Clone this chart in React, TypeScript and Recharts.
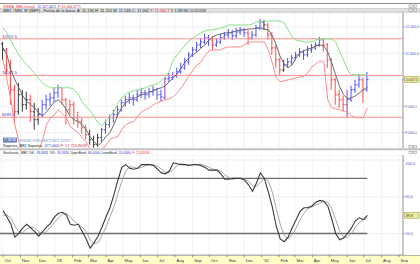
import React from 'react';
import { ComposedChart, Bar, Line, XAxis, YAxis, CartesianGrid, ReferenceLine } from 'recharts';

// weekly bars, Oct 2008 .. Jul 2010
const openPx = [
  11358, 11132, 10453, 9623, 8792, 9434, 9057, 9245, 8792, 8491,
  8679, 9057, 9245, 9321, 9509, 9698, 9245, 8868, 9057, 8566,
  8415, 8189, 7925, 7736, 7547, 7811, 8113, 8302, 8566, 8679,
  8868, 9132, 9245, 9321, 9245, 9434, 9509, 9434, 9547, 9623,
  9434, 9321, 10038, 10075, 10151, 10302, 10453, 10679, 10943, 11132,
  11321, 11434, 11585, 11509, 11321, 11434, 11585, 11698, 11774, 11660,
  11811, 11887, 11774, 11585, 11698, 11962, 12189, 12075, 11698, 11208,
  10755, 10377, 10566, 10679, 10830, 10943, 11057, 10943, 11132, 11208,
  11321, 11509, 11321, 10755, 10000, 9434, 9245, 9057, 9245, 9623,
  9811, 10000, 9623,
];
const highPx = [
  11434, 11208, 10755, 9811, 9887, 9623, 9547, 9434, 9132, 8943,
  9245, 9434, 9509, 9698, 9811, 9698, 9321, 9245, 9170, 8792,
  8566, 8302, 8113, 7887, 7962, 8189, 8491, 8679, 8868, 9019,
  9245, 9396, 9509, 9434, 9623, 9698, 9623, 9698, 9774, 9698,
  9623, 10113, 10264, 10302, 10453, 10642, 10830, 11057, 11245, 11434,
  11585, 11736, 11698, 11660, 11585, 11736, 11811, 11925, 11887, 11962,
  12000, 11962, 11887, 11849, 12075, 12302, 12264, 12151, 11811, 11321,
  10830, 10755, 10830, 10943, 11057, 11208, 11132, 11283, 11358, 11434,
  11623, 11585, 11396, 10830, 10075, 9623, 9396, 9623, 9774, 10000,
  10226, 10075, 10302,
];
const lowPx = [
  10755, 10189, 9057, 8302, 8679, 8792, 8868, 8415, 8113, 8302,
  8566, 8868, 9019, 9170, 9321, 9057, 8302, 8679, 8302, 8189,
  7962, 7736, 7547, 7434, 7472, 7660, 7962, 8189, 8377, 8566,
  8792, 8981, 9094, 9019, 9170, 9321, 9245, 9321, 9396, 9245,
  9170, 9245, 9925, 10000, 10075, 10226, 10377, 10566, 10868, 11057,
  11208, 11358, 11283, 11132, 11245, 11358, 11509, 11585, 11509, 11585,
  11698, 11623, 11321, 11509, 11623, 11887, 11887, 11509, 10943, 10453,
  10189, 10302, 10453, 10566, 10755, 10868, 10755, 10868, 11019, 11132,
  11245, 11057, 10453, 9623, 9057, 8943, 8792, 8566, 9170, 9509,
  9698, 9132, 9547,
];
const closePx = [
  11132, 10377, 9623, 8792, 9434, 9057, 9245, 8792, 8491, 8679,
  9057, 9245, 9321, 9509, 9698, 9245, 8868, 9057, 8566, 8415,
  8189, 7925, 7736, 7547, 7811, 8113, 8302, 8566, 8679, 8868,
  9132, 9245, 9321, 9245, 9434, 9509, 9434, 9547, 9623, 9434,
  9358, 10038, 10075, 10151, 10302, 10453, 10679, 10943, 11132, 11321,
  11434, 11585, 11509, 11321, 11434, 11585, 11698, 11774, 11660, 11811,
  11887, 11774, 11585, 11698, 11962, 12189, 12075, 11698, 11208, 10755,
  10377, 10566, 10679, 10830, 10943, 11057, 10943, 11132, 11208, 11321,
  11509, 11321, 10755, 10000, 9434, 9245, 9057, 9245, 9623, 9811,
  10000, 9623, 10017.5,
];
// u = up, d = down, f = flat, t = turn
const barTrend = [
  'f', 'd', 'd', 'd', 'f', 'f', 'f', 'd', 'f', 'f',
  'u', 'u', 'u', 'u', 'u', 'd', 'd', 'd', 'd', 'd',
  'd', 'd', 'f', 'f', 'f', 'u', 'u', 'u', 'u', 'u',
  'u', 'u', 'u', 'u', 'u', 'u', 'u', 'u', 'u', 'u',
  'u', 't', 'u', 'u', 'u', 'u', 'u', 'u', 'u', 'u',
  'u', 'u', 'u', 'd', 'u', 'u', 'u', 'u', 'u', 'u',
  'u', 'u', 'd', 'u', 'u', 'u', 'f', 'd', 'd', 'd',
  'd', 'f', 'u', 'u', 'u', 'u', 'u', 'u', 'u', 'u',
  'u', 'd', 'd', 'd', 'd', 'd', 'd', 't', 'u', 'u',
  'u', 'd', 'u',
];
const upperBand = [
  11962, 11774, 11472, 11208, 10943, 10755, 10566, 10415, 10264, 10038,
  9887, 9774, 9698, 9698, 9698, 9698, 9698, 9698, 9623, 9434,
  9170, 8981, 8830, 8604, 8377, 8264, 8453, 8604, 8792, 9132,
  9321, 9472, 9547, 9585, 9623, 9660, 9698, 9774, 9811, 9849,
  9962, 10113, 10340, 10755, 10943, 11132, 11321, 11472, 11585, 11698,
  11774, 11849, 11887, 11887, 11925, 11962, 12000, 12075, 12075, 12075,
  12075, 12075, 12075, 12113, 12189, 12189, 12226, 12226, 12226, 12226,
  12226, 12151, 11887, 11623, 11509, 11472, 11434, 11434, 11434, 11509,
  11547, 11547, 11547, 11547, 11434, 11057, 10755, 10377, 10189, 10189,
  10189, 10189, 10189,
];
const lowerBand = [
  10755, 10000, 9245, 8302, 7660, 7283, 7283, 7283, 7283, 7283,
  7736, 8302, 8566, 8679, 8868, 8717, 8566, 8226, 8113, 8000,
  7811, 7660, 7359, 7170, 7170, 7359, 7547, 7736, 7811, 7849,
  8113, 8302, 8377, 8415, 8604, 8792, 8868, 8943, 9057, 9132,
  9208, 9245, 9283, 9358, 9509, 9698, 9925, 10151, 10377, 10566,
  10679, 10906, 11094, 11132, 11132, 11132, 11208, 11245, 11245, 11245,
  11245, 11321, 11434, 11434, 11434, 11434, 11434, 11132, 10642, 10075,
  9925, 9962, 10000, 10038, 10075, 10113, 10151, 10264, 10491, 10604,
  10717, 10679, 9245, 8943, 8906, 8868, 8830, 8755, 8642, 8566,
  8566, 8566, 8943,
];
const avgLine = [
  11208, 10943, 10377, 10000, 9698, 9396, 9170, 9057, 8943, 8755,
  8642, 8792, 8981, 9170, 9245, 9094, 8868, 8604, 8491, 8415,
  8302, 8113, 7849, 7660, 7509, 7660, 7849, 8000, 8302, 8679,
  8943, 9132, 9245, 9283, 9358, 9434, 9472, 9547, 9585, 9660,
  9698, 9774, 9925, 10075, 10226, 10453, 10679, 10830, 10943, 11057,
  11208, 11321, 11509, 11623, 11698, 11736, 11774, 11774, 11811, 11849,
  11887, 11887, 11925, 11925, 11962, 11962, 11925, 11887, 11660, 11321,
  10868, 10604, 10453, 10566, 10830, 11019, 11094, 11170, 11208, 11283,
  11321, 11283, 11057, 10642, 10189, 9736, 9434, 9283, 9321, 9396,
  9509, 9623, 9736,
];
const stochK = [
  45, 38, 30, 16, 20, 26, 30, 26, 22, 17,
  22, 27, 31, 38, 42, 43, 40, 30, 29, 30,
  22, 14, 4, 10, 17, 27, 38, 48, 62, 78,
  92, 95, 91, 90, 91, 95, 95, 95, 94, 90,
  86, 85, 88, 97, 96, 95, 95, 94, 95, 95,
  94, 92, 89, 89, 89, 85, 79, 79, 80, 80,
  80, 78, 73, 66, 75, 86, 80, 65, 49, 28,
  14, 11, 16, 26, 35, 44, 48, 48, 50, 54,
  56, 55, 50, 36, 20, 13, 15, 20, 26, 34,
  37, 35, 39.8,
];
const stochD = [
  40, 40, 37, 28, 22, 21, 25, 27, 26, 22,
  20, 22, 27, 32, 37, 41, 42, 38, 33, 30,
  27, 22, 13, 9, 10, 18, 27, 38, 49, 63,
  77, 88, 93, 92, 91, 92, 94, 95, 95, 93,
  90, 87, 86, 90, 94, 96, 95, 95, 95, 95,
  95, 94, 92, 90, 89, 88, 84, 81, 79, 80,
  80, 79, 77, 72, 71, 76, 80, 77, 65, 47,
  30, 18, 14, 18, 26, 35, 42, 47, 49, 51,
  53, 55, 54, 47, 35, 23, 16, 16, 20, 27,
  32, 35, 37,
];

// month starts, in weeks from the first bar
const monthPos = [0, 4.4, 8.7, 13.1, 17.6, 21.6, 26, 30.3, 34.7, 39, 43.4, 47.9, 52.1, 56.6, 60.9, 65.3, 69.7, 73.7, 78.1, 82.4, 86.9, 91.1, 95.6, 100];
const monthLabels = ['Oct', 'Nov', 'Dec', "'09", 'Feb', 'Mar', 'Apr', 'May', 'Jun', 'Jul', 'Aug', 'Sep', 'Oct', 'Nov', 'Dec', "'10", 'Feb', 'Mar', 'Apr', 'May', 'Jun', 'Jul', 'Aug', 'Sep'];

const levels = [11552.5, 10167.5, 8583.0];
const priceTicks = [8000, 9000, 10000, 11000, 12000];
const stochTicks = [0, 20, 40, 60, 80, 100];
const stochBands = [80, 20];

const rows = closePx.map((c, i) => ({
  w: i,
  open: openPx[i],
  high: highPx[i],
  low: lowPx[i],
  close: c,
  trend: barTrend[i],
  upper: upperBand[i],
  lower: lowerBand[i],
  avg: avgLine[i],
  k: stochK[i],
  d: stochD[i],
}));

const xDomain = [-0.76, 101];
const lastRow = rows[rows.length - 1];

const trendColor: Record<string, string> = { u: '#5050ff', d: '#ff4a4a', f: '#3a3a3a', t: '#9a3cb0' };
const FONT = "'Liberation Sans', Arial, sans-serif";
const RED = '#e03030';
const BLUE = '#3434c8';
const INK = '#202020';

const comma = (v: number, dec = 1) => v.toFixed(dec).replace('.', ',');
const spaced = (v: number) => {
  const [i, d] = v.toFixed(1).split('.');
  return i.replace(/\B(?=(\d{3})+(?!\d))/g, ' ') + ',' + d;
};

const OhlcBar = (props: any) => {
  const { x, y, width, height, payload } = props;
  if (!payload) return null;
  const top = Math.min(y, y + height);
  const bot = Math.max(y, y + height);
  const span = payload.high - payload.low || 1;
  const yOf = (v: number) => top + ((payload.high - v) / span) * (bot - top);
  const cx = x + width / 2;
  return (
    <g stroke={trendColor[payload.trend]} strokeWidth={1}>
      <line x1={cx} x2={cx} y1={top} y2={bot} />
      <line x1={cx - 1.6} x2={cx} y1={yOf(payload.open)} y2={yOf(payload.open)} />
      <line x1={cx} x2={cx + 1.6} y1={yOf(payload.close)} y2={yOf(payload.close)} />
    </g>
  );
};

const levelLabel = (text: string) => (p: any) => {
  const vb = p.viewBox || {};
  return (
    <text x={(vb.x || 0) + 2} y={(vb.y || 0) - 1.2} fontSize={4.2} fill="#4848c8" fontFamily={FONT}>
      {text}
    </text>
  );
};

const lastLabel = (text: string, len: number) => (p: any) => {
  const vb = p.viewBox || {};
  const x = (vb.x || 0) + (vb.width || 0) + 1.5;
  const y = vb.y || 0;
  return (
    <g>
      <rect x={x} y={y - 3} width={14.5} height={6} fill="#eaea9c" stroke="#a4a45c" strokeWidth={0.6} />
      <text x={x + 1.2} y={y + 1.4} fontSize={3.4} fill="#333" fontFamily={FONT} textLength={len} lengthAdjust="spacingAndGlyphs">
        {text}
      </text>
    </g>
  );
};

const RightTick = (props: any) => {
  const { x, y, payload, fmt, size } = props;
  const text = fmt(payload.value);
  if (!text) return null;
  return (
    <text x={x} y={y + 1.4} fontSize={size} fill="#5050b8" fontFamily={FONT}>
      {text}
    </text>
  );
};

const MonthTick = (props: any) => {
  const { x, y, payload } = props;
  const idx = monthPos.indexOf(payload.value);
  return (
    <g>
      <line x1={x} x2={x} y1={y} y2={y + 2.2} stroke="#707070" strokeWidth={0.8} />
      <text x={x + 1.5} y={y + 7} fontSize={4.2} fill="#2c2c5a" fontFamily={FONT}>
        {monthLabels[idx]}
      </text>
    </g>
  );
};

// a row of coloured text pieces, each squeezed to its own width
const TextRow = ({ x, y, size, parts }: { x: number; y: number; size: number; parts: [string, string, number][] }) => {
  let cur = x;
  return (
    <g>
      {parts.map(([t, c, w], i) => {
        const el = (
          <text key={i} x={cur} y={y} fontSize={size} fill={c} textLength={w} lengthAdjust="spacingAndGlyphs">
            {t}
          </text>
        );
        cur += w + 1.4;
        return el;
      })}
    </g>
  );
};

const Buttons = ({ y }: { y: number }) => (
  <g>
    <rect x={409} y={y} width={3.2} height={2.4} fill="#f4f4f4" stroke="#8a8a8a" strokeWidth={0.5} />
    <rect x={413.4} y={y} width={3.2} height={2.4} fill="#f4f4f4" stroke="#8a8a8a" strokeWidth={0.5} />
  </g>
);

const Overlay = () => (
  <svg width={420} height={264} style={{ position: 'absolute', left: 0, top: 0, pointerEvents: 'none' }} fontFamily={FONT}>
    <rect x={0} y={3} width={420} height={1} fill="#8c8c8c" />
    <TextRow
      x={3}
      y={7.7}
      size={3.5}
      parts={[
        ['DMMA_MB1 Linea1:', RED, 33],
        ['11 147,4621', BLUE, 19],
        ['F: 10 466,4771', RED, 23],
      ]}
    />
    <rect x={0} y={8.6} width={420} height={3.6} fill="#e0e0e0" stroke="#b0b0b0" strokeWidth={0.5} />
    <TextRow
      x={3}
      y={11.6}
      size={3.4}
      parts={[
        ['MB1 / MB1 W (MEF) - Fecha de la barra: A: 11 230 H: 11 252 M: 11 248 C: 11 062', INK, 146],
        ['F: 11 062,7', RED, 19],
        ['V: 3 188 860 10/10/2008', INK, 35],
      ]}
    />
    <Buttons y={5} />
    <Buttons y={9} />
    <rect x={3} y={137.6} width={14} height={5} fill="#6b80ba" />
    <text x={4.2} y={141.4} fontSize={3.2} fill="#fff" textLength={11.6} lengthAdjust="spacingAndGlyphs">© 3DW</text>
    <text x={19} y={142.4} fontSize={4.6} fill="#9caad2" textLength={52} lengthAdjust="spacingAndGlyphs">www.visualchart.com</text>
    <TextRow
      x={3}
      y={147.4}
      size={3.4}
      parts={[
        ['Soportes_MB1 Soportes:', INK, 40],
        ['477,0000', BLUE, 15],
        ['F: 12 710,8039', RED, 26],
      ]}
    />
    <rect x={0} y={148.4} width={420} height={1.8} fill="#bdbdbd" />
    <Buttons y={145.6} />
    <Buttons y={151.2} />
    <TextRow
      x={3}
      y={153.6}
      size={3.3}
      parts={[
        ['Stochastic_MB1 %K:', INK, 32],
        ['33,6681', BLUE, 12],
        ['%D:', INK, 6],
        ['35,3616', BLUE, 12],
        ['UpperBand:', INK, 16],
        ['80,0000', BLUE, 12],
        ['LowerBand:', INK, 16],
        ['20,0000', BLUE, 12],
        ['F: 2,163584', RED, 17],
      ]}
    />
  </svg>
);

export default function App() {
  return (
    <div style={{ position: 'fixed', left: 0, top: 0, width: 420, height: 264, background: '#fff', overflow: 'hidden' }}>
      <div style={{ position: 'absolute', left: 0, top: 255, width: 420, height: 9, background: '#ffffc6', borderTop: '1px solid #b8b8a0' }} />

      <div style={{ position: 'absolute', left: 0, top: 12 }}>
        <ComposedChart width={420} height={136} data={rows} margin={{ top: 0, right: 0, bottom: 0, left: 0 }}>
          <CartesianGrid stroke="#ededed" strokeWidth={0.8} />
          <XAxis type="number" dataKey="w" domain={xDomain} ticks={monthPos} interval={0} allowDataOverflow hide />
          <YAxis
            orientation="right"
            width={17}
            domain={[7420, 12566]}
            ticks={priceTicks}
            allowDataOverflow
            tickSize={1.5}
            tickMargin={0.8}
            tickLine={{ stroke: '#8c8cc0' }}
            axisLine={{ stroke: '#9a9a9a' }}
            tick={<RightTick size={3.5} fmt={(v: number) => (v === 10000 ? '' : spaced(v))} />}
          />
          {levels.map((lv) => (
            <ReferenceLine key={lv} y={lv} stroke="#ff8e8e" strokeWidth={1} label={levelLabel(comma(lv))} />
          ))}
          <Line dataKey="upper" stroke="#86e086" strokeWidth={1} dot={false} isAnimationActive={false} />
          <Line dataKey="lower" stroke="#ff8a8a" strokeWidth={1} dot={false} isAnimationActive={false} />
          <Bar dataKey={(d: any) => [d.low, d.high]} barSize={3} shape={OhlcBar} isAnimationActive={false} />
          <Line dataKey="avg" stroke="#6a6a6a" strokeWidth={1} dot={false} isAnimationActive={false} />
          <ReferenceLine y={lastRow.close} stroke="none" label={lastLabel(spaced(lastRow.close), 12)} />
        </ComposedChart>
      </div>

      <div style={{ position: 'absolute', left: 0, top: 155 }}>
        <ComposedChart width={420} height={109} data={rows} margin={{ top: 0, right: 0, bottom: 0, left: 0 }}>
          <CartesianGrid stroke="#ededed" strokeWidth={0.8} />
          <XAxis
            type="number"
            dataKey="w"
            domain={xDomain}
            ticks={monthPos}
            interval={0}
            allowDataOverflow
            height={9}
            tickLine={false}
            tickSize={0}
            tickMargin={0}
            axisLine={{ stroke: '#a8a8a8' }}
            tick={<MonthTick />}
          />
          <YAxis
            orientation="right"
            width={17}
            domain={[-3.5, 105.5]}
            ticks={stochTicks}
            allowDataOverflow
            tickSize={1.5}
            tickMargin={0.8}
            tickLine={{ stroke: '#8c8cc0' }}
            axisLine={{ stroke: '#9a9a9a' }}
            tick={<RightTick size={4} fmt={(v: number) => (v === 40 ? '' : comma(v))} />}
          />
          {stochBands.map((b) => (
            <ReferenceLine
              key={b}
              segment={[{ x: xDomain[0], y: b }, { x: lastRow.w, y: b }]}
              stroke="#6e6e6e"
              strokeWidth={1.4}
            />
          ))}
          <Line dataKey="d" stroke="#9c9c9c" strokeWidth={0.9} dot={false} isAnimationActive={false} />
          <Line dataKey="k" stroke="#3a3a3a" strokeWidth={1.1} dot={false} isAnimationActive={false} />
          <ReferenceLine y={lastRow.k} stroke="none" label={lastLabel(comma(lastRow.k), 7)} />
        </ComposedChart>
      </div>

      <Overlay />
    </div>
  );
}
